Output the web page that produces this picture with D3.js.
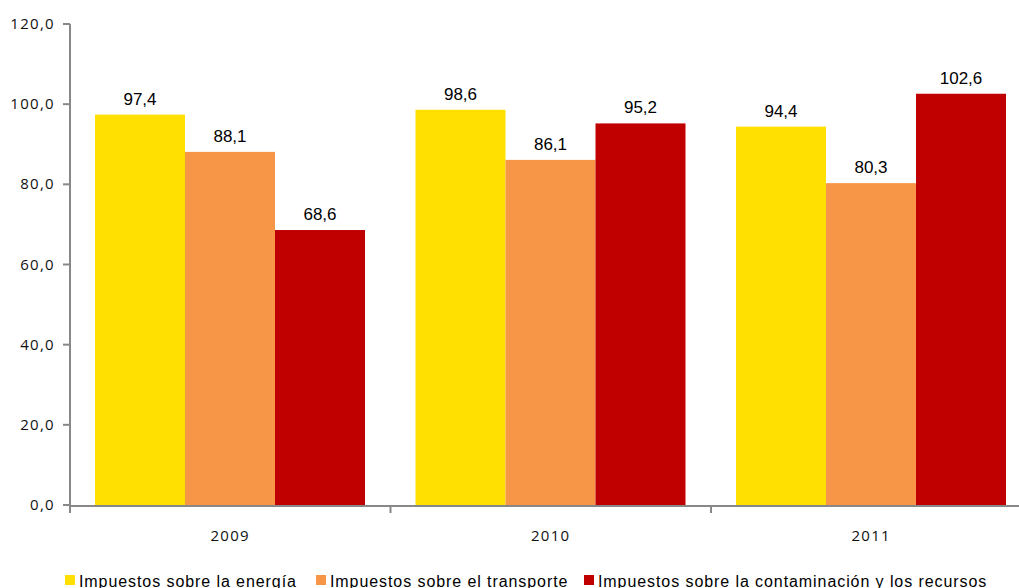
<!DOCTYPE html>
<html>
<head>
<meta charset="utf-8">
<script src="https://cdn.jsdelivr.net/npm/d3@7"></script>
<style>
  body { margin: 0; background: #fff; }
  svg { display: block; }
  .tick-label { font-family: "Open Sans", "DejaVu Sans", sans-serif; font-size: 15px; fill: #111; letter-spacing: 1.3px; }
  .val { font-family: "Liberation Sans", Arial, sans-serif; font-size: 17px; fill: #000; }
  .legend-text { font-family: "Liberation Sans", Arial, sans-serif; font-size: 16px; fill: #000; letter-spacing: 0.92px; }
</style>
</head>
<body>
<svg id="chart" width="1019" height="588"></svg>
<script>
const years = ['2009', '2010', '2011'];
const seriesNames = [
    'Impuestos sobre la energía',
    'Impuestos sobre el transporte',
    'Impuestos sobre la contaminación y los recursos'
];
const energia = [97.4, 98.6, 94.4];
const transporte = [88.1, 86.1, 80.3];
const contaminacion = [68.6, 95.2, 102.6];
const yTicks = [0, 20, 40, 60, 80, 100, 120];
const colors = ['#FFE000', '#F79646', '#C00000'];

const seriesValues = [energia, transporte, contaminacion];
const fmt = v => v.toFixed(1).replace('.', ',');

const svg = d3.select('#chart');

const y = d3.scaleLinear().domain([0, 120]).range([505, 24]);
const x0 = d3.scaleBand().domain(years).range([70, 1031.5]).padding(0);
const x1 = d3.scaleBand().domain(d3.range(3)).range([25, x0.bandwidth() - 25.5]).padding(0);

// Bars
const groups = svg.append('g').selectAll('g')
    .data(years)
    .join('g')
    .attr('transform', d => `translate(${x0(d)},0)`);

groups.selectAll('rect')
    .data((d, i) => seriesValues.map((s, k) => ({ k, v: s[i] })))
    .join('rect')
    .attr('x', d => x1(d.k))
    .attr('y', d => y(d.v))
    .attr('width', x1.bandwidth())
    .attr('height', d => y(0) - y(d.v))
    .attr('fill', d => colors[d.k]);

groups.selectAll('text')
    .data((d, i) => seriesValues.map((s, k) => ({ k, v: s[i] })))
    .join('text')
    .attr('class', 'val')
    .attr('x', d => x1(d.k) + x1.bandwidth() / 2)
    .attr('y', d => y(d.v) - 10)
    .attr('text-anchor', 'middle')
    .text(d => fmt(d.v));

// Y axis
const yAxis = svg.append('g');
yAxis.append('line')
    .attr('x1', 70).attr('x2', 70)
    .attr('y1', y(120)).attr('y2', y(0) + 1)
    .attr('stroke', '#888').attr('stroke-width', 2);
yAxis.selectAll('.yt')
    .data(yTicks)
    .join('line')
    .attr('x1', 63).attr('x2', 70)
    .attr('y1', d => y(d)).attr('y2', d => y(d))
    .attr('stroke', '#888').attr('stroke-width', 2);
yAxis.selectAll('text')
    .data(yTicks)
    .join('text')
    .attr('class', 'tick-label')
    .attr('x', 55)
    .attr('y', d => y(d) + 5)
    .attr('text-anchor', 'end')
    .text(d => fmt(d));

// X axis
const xAxis = svg.append('g');
xAxis.append('line')
    .attr('x1', 69).attr('x2', 1019)
    .attr('y1', y(0) + 1).attr('y2', y(0) + 1)
    .attr('stroke', '#888').attr('stroke-width', 2);
xAxis.selectAll('.xt')
    .data(years)
    .join('line')
    .attr('x1', d => x0(d)).attr('x2', d => x0(d))
    .attr('y1', y(0)).attr('y2', y(0) + 8)
    .attr('stroke', '#888').attr('stroke-width', 2);
xAxis.selectAll('text')
    .data(years)
    .join('text')
    .attr('class', 'tick-label')
    .attr('x', d => x0(d) + x0.bandwidth() / 2)
    .attr('y', 541)
    .attr('text-anchor', 'middle')
    .text(d => d);

// Legend
const legendX = [65, 316, 584];
const legend = svg.append('g').selectAll('g')
    .data(seriesNames)
    .join('g')
    .attr('transform', (d, i) => `translate(${legendX[i]},575)`);
legend.append('rect')
    .attr('width', 10).attr('height', 10)
    .attr('fill', (d, i) => colors[i]);
legend.append('text')
    .attr('class', 'legend-text')
    .attr('x', 14)
    .attr('y', 11.5)
    .text(d => d);
</script>
</body>
</html>
